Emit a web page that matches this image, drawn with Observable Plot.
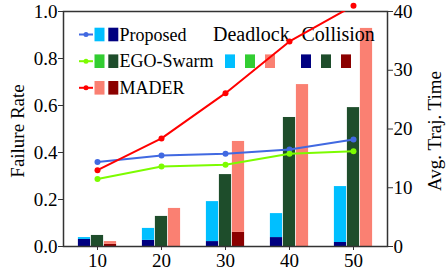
<!DOCTYPE html>
<html>
<head>
<meta charset="utf-8">
<script src="https://cdn.jsdelivr.net/npm/d3@7"></script>
<script src="https://cdn.jsdelivr.net/npm/@observablehq/plot@0.6"></script>
<style>
  html, body { margin: 0; padding: 0; background: white; }
</style>
</head>
<body>
<div id="chart"></div>
<script>
// ---- Data ----
const categories = ["10", "20", "30", "40", "50"];
const methods = ["Proposed", "EGO-Swarm", "MADER"];

const proposedCollision = [0.030, 0.026, 0.021, 0.038, 0.017];
const proposedDeadlock  = [0.008, 0.051, 0.170, 0.102, 0.238];
const egoCollision      = [0.047, 0.128, 0.306, 0.549, 0.591];
const egoDeadlock       = [0.000, 0.000, 0.000, 0.000, 0.000];
const maderCollision    = [0.009, 0.000, 0.060, 0.000, 0.000];
const maderDeadlock     = [0.012, 0.162, 0.387, 0.689, 0.928];

const proposedTime = [14.4, 15.5, 15.8, 16.5, 18.2];
const egoTime      = [11.5, 13.6, 13.9, 15.8, 16.2];
const maderTime    = [13.0, 18.4, 26.1, 34.9, 41.0];

const rateTicks = [0, 0.2, 0.4, 0.6, 0.8, 1.0];
const timeTicks = [0, 10, 20, 30, 40];
const timeMax = 40;

// ---- Styles ----
const style = {
  "Proposed":  {line: "#4169e1", dead: "#00bfff", coll: "#000080", inL: 12.9, inR: 38.9},
  "EGO-Swarm": {line: "#7cfc00", dead: "#32cd32", coll: "#1e4d2b", inL: 25.9, inR: 25.9},
  "MADER":     {line: "#ff0000", dead: "#fa8072", coll: "#8b0000", inL: 38.9, inR: 12.9}
};

const series = {
  "Proposed":  {coll: proposedCollision, dead: proposedDeadlock, time: proposedTime},
  "EGO-Swarm": {coll: egoCollision, dead: egoDeadlock, time: egoTime},
  "MADER":     {coll: maderCollision, dead: maderDeadlock, time: maderTime}
};

const barRows = m => categories.map((c, i) => ({
  cat: c, coll: series[m].coll[i], total: series[m].coll[i] + series[m].dead[i]
}));
const timeRows = m => categories.map((c, i) => ({cat: c, t: series[m].time[i] / timeMax}));

const serif = "'Liberation Serif', 'DejaVu Serif', serif";

function legend(index, scales, values, dims) {
  const g = d3.create("svg:g")
    .attr("font-family", serif)
    .attr("font-size", 18)
    .attr("text-anchor", "start")
    .attr("fill", "#000");
  const rowY = [34.5, 61.2, 87.8];
  methods.forEach((m, k) => {
    const s = style[m], y = rowY[k];
    g.append("line").attr("x1", 79).attr("x2", 93).attr("y1", y).attr("y2", y)
      .attr("stroke", s.line).attr("stroke-width", 2);
    g.append("circle").attr("cx", 86).attr("cy", y).attr("r", 2.5).attr("fill", s.line);
    g.append("rect").attr("x", 94.5).attr("y", y - 6.8).attr("width", 10).attr("height", 13.6).attr("fill", s.dead);
    g.append("rect").attr("x", 108.3).attr("y", y - 6.8).attr("width", 10).attr("height", 13.6).attr("fill", s.coll);
    g.append("text").attr("x", 119.5).attr("y", y + 6.2).text(m);
    g.append("rect").attr("x", 225 + 20 * k).attr("y", rowY[1] - 6.8).attr("width", 10).attr("height", 13.6).attr("fill", s.dead);
    g.append("rect").attr("x", 301 + 20 * k).attr("y", rowY[1] - 6.8).attr("width", 10).attr("height", 13.6).attr("fill", s.coll);
  });
  g.append("text").attr("x", 213).attr("y", rowY[0] + 6.5).attr("font-size", 20).text("Deadlock");
  g.append("text").attr("x", 301.5).attr("y", rowY[0] + 6.5).attr("font-size", 20).text("Collision");
  // axis titles
  g.append("text").attr("transform", "translate(24,131) rotate(-90)")
    .attr("text-anchor", "middle").attr("font-size", 19).text("Failure Rate");
  g.append("text").attr("transform", "translate(441,131) rotate(-90)")
    .attr("text-anchor", "middle").attr("font-size", 19).text("Avg. Traj. Time");
  return g.node();
}

const marks = [];
for (const m of methods) {
  const s = style[m];
  marks.push(Plot.barY(barRows(m), {x: "cat", y1: 0, y2: "coll", fill: s.coll, insetLeft: s.inL, insetRight: s.inR}));
  marks.push(Plot.barY(barRows(m), {x: "cat", y1: "coll", y2: "total", fill: s.dead, insetLeft: s.inL, insetRight: s.inR}));
}
marks.push(Plot.frame({stroke: "#333", strokeWidth: 1.5}));
marks.push(Plot.axisX({tickSize: 4, tickPadding: 3, stroke: "#333", label: null, fontSize: 19}));
marks.push(Plot.axisY({ticks: rateTicks, tickFormat: d3.format(".1f"), tickSize: 5, tickPadding: 1, stroke: "#333", label: null, fontSize: 19}));
marks.push(Plot.axisY({anchor: "right", ticks: timeTicks.map(t => t / timeMax), tickFormat: d => Math.round(d * timeMax), tickSize: 5, tickPadding: 1, stroke: "#333", label: null, fontSize: 19}));
marks.push(legend);
for (const m of methods) {
  const s = style[m];
  marks.push(Plot.lineY(timeRows(m), {x: "cat", y: "t", stroke: s.line, strokeWidth: 2, clip: true}));
  marks.push(Plot.dot(timeRows(m), {x: "cat", y: "t", fill: s.line, r: 3}));
}

const chart = Plot.plot({
  width: 446,
  height: 274,
  marginLeft: 63,
  marginRight: 59,
  marginTop: 11,
  marginBottom: 28,
  style: {fontFamily: serif, fontSize: "18px", color: "#000", background: "white"},
  x: {type: "band", domain: categories, padding: 0, label: null},
  y: {domain: [0, 1], label: null},
  marks
});
document.getElementById("chart").appendChild(chart);
</script>
</body>
</html>
